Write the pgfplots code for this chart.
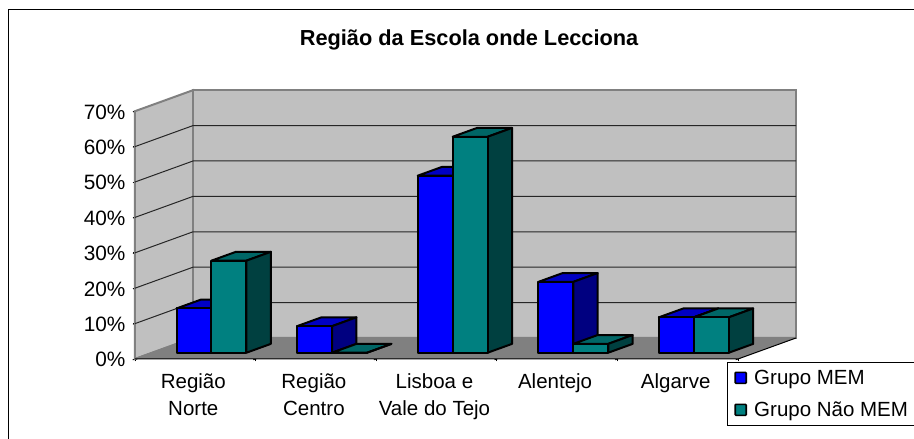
\documentclass[border=0pt]{standalone}
\usepackage{pgfplots}
\pgfplotsset{compat=1.18}
\usepackage{fontspec}
\setmainfont{Liberation Sans}
\definecolor{wall}{HTML}{C0C0C0}
\definecolor{floorgrey}{HTML}{808080}
\definecolor{memfront}{HTML}{0000FF}
\definecolor{memtop}{HTML}{0000C4}
\definecolor{memside}{HTML}{000080}
\definecolor{naofront}{HTML}{008080}
\definecolor{naotop}{HTML}{006666}
\definecolor{naoside}{HTML}{004040}

% one 3D bar: left x, value, colour prefix
\newcommand{\boxbar}[3]{%
  \pgfmathsetmacro{\xr}{#1+0.29}%
  \addplot3[fill=#3top,draw=black,line width=2pt,line join=round,forget plot]
    coordinates {(#1,0.30,#2) (\xr,0.30,#2) (\xr,0.72,#2) (#1,0.72,#2)} -- cycle;
  \addplot3[fill=#3side,draw=black,line width=2pt,line join=round,forget plot]
    coordinates {(\xr,0.30,0) (\xr,0.72,0) (\xr,0.72,#2) (\xr,0.30,#2)} -- cycle;
  \addplot3[fill=#3front,draw=black,line width=2pt,line join=round,forget plot]
    coordinates {(#1,0.30,0) (\xr,0.30,0) (\xr,0.30,#2) (#1,0.30,#2)} -- cycle;
}

\begin{document}
\begin{tikzpicture}
\path[use as bounding box] (0,0) rectangle (914pt,439pt);
\draw[line width=1pt,black] (8.5pt,-5pt) -- (8.5pt,429pt) -- (925pt,429pt);
\begin{axis}[
    at={(135pt,80pt)},
    anchor=origin,
    x={(120.6pt,0pt)},
    y={(58pt,21pt)},
    z={(0pt,3.54pt)},
    xmin=0, xmax=5,
    ymin=0, ymax=1,
    zmin=0, zmax=70,
    clip=false,
    axis lines=left,
    axis line style={draw=none},
    ytick=\empty,
    ztick={0,10,...,70},
    zticklabels={0\%,10\%,20\%,30\%,40\%,50\%,60\%,70\%},
    xtick={0.5,1.5,2.5,3.5,4.5},
    xticklabels={{Região\\Norte},{Região\\Centro},{Lisboa e\\Vale do Tejo},{Alentejo},{Algarve}},
    minor xtick={0,1,2,3,4,5},
    x tick label style={align=center,anchor=north,font=\fontsize{20.5}{27}\selectfont,yshift=-10pt},
    z tick label style={anchor=east,font=\fontsize{20.8}{24}\selectfont,xshift=-4pt},
    major x tick style={draw=none},
    minor tick length=5pt,
    tick style={black,line width=0.8pt},
    title={\bfseries Região da Escola onde Lecciona},
    title style={at={(axis cs:2.77,0,88.4)},anchor=center,font=\fontsize{21.75}{24}\selectfont},
    legend style={at={(axis cs:4.909,0,-0.85)},anchor=north west,draw=black,line width=0.8pt,
      font=\fontsize{20.5}{26}\selectfont,inner xsep=7pt,inner ysep=5.5pt,row sep=12pt},
    legend cell align=left,
    legend image code/.code={%
      \path[draw=none,fill=none] (0pt,0pt) -- (17pt,0pt);
      \draw[#1,line width=1.6pt,rounded corners=0.8pt] (0pt,-5.5pt) rectangle (11pt,5.5pt);},
]
\addlegendimage{fill=memfront,draw=black}
\addlegendentry{Grupo MEM}
\addlegendimage{fill=naofront,draw=black}
\addlegendentry{Grupo Não MEM\kern14pt\null}
% walls and floor
\addplot3[fill=wall,draw=floorgrey,line width=2pt,forget plot] coordinates {(0,0,0) (0,1,0) (0,1,70) (0,0,70)} -- cycle;
\addplot3[fill=wall,draw=floorgrey,line width=2pt,forget plot] coordinates {(0,1,0) (5,1,0) (5,1,70) (0,1,70)} -- cycle;
\addplot3[fill=floorgrey,draw=none,forget plot] coordinates {(0,0,0) (5,0,0) (5,1,0) (0,1,0)} -- cycle;
% grid
\pgfplotsinvokeforeach{10,20,30,40,50,60}{
  \addplot3[black!85,line width=1pt,forget plot] coordinates {(0,0,#1) (0,1,#1) (5,1,#1)};
}
\addplot3[floorgrey,line width=2pt,forget plot] coordinates {(0,0,0) (0,1,0) (5,1,0)};
\addplot3[black,line width=1pt,forget plot] coordinates {(0,0,0) (5,0,0) (5,1,0)};
% bars
\boxbar{0.20}{12.5}{mem}
\boxbar{0.49}{26}{nao}
\boxbar{1.20}{7.5}{mem}
\boxbar{1.49}{0}{nao}
\boxbar{2.20}{50}{mem}
\boxbar{2.49}{61}{nao}
\boxbar{3.20}{20}{mem}
\boxbar{3.49}{2.5}{nao}
\boxbar{4.20}{10}{mem}
\boxbar{4.49}{10}{nao}
\end{axis}
\end{tikzpicture}
\end{document}
